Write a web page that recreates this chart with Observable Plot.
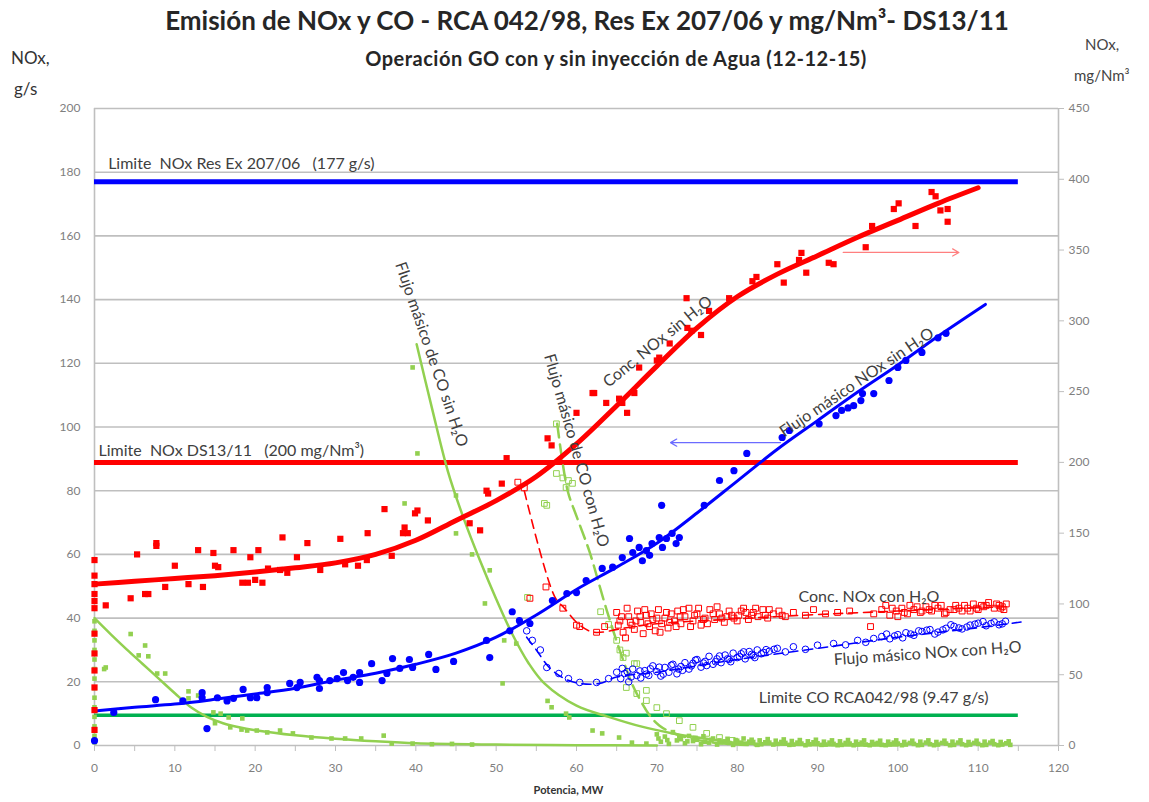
<!DOCTYPE html>
<html>
<head>
<meta charset="utf-8">
<script src="https://cdn.jsdelivr.net/npm/d3@7"></script>
<script src="https://cdn.jsdelivr.net/npm/@observablehq/plot@0.6"></script>
<style>
  html, body { margin:0; padding:0; background:#fff; }
  #wrap { position:relative; width:1149px; height:802px; font-family:Lato, "Open Sans", sans-serif; }
  #head { position:relative; height:80px; }
  .t { position:absolute; white-space:nowrap; color:#262626; }
  #title { left:0; width:1174px; text-align:center; top:4px; font-size:26px; font-weight:bold; }
  #sub { left:0; width:1232px; text-align:center; top:46px; font-size:20px; font-weight:bold; letter-spacing:0.5px; }
  .ylab { font-size:17px; color:#333; }
  .ylabr { font-size:15px; color:#444; }
</style>
</head>
<body>
<div id="wrap">
  <div id="head">
    <div class="t" id="title">Emisión de NOx y CO - RCA 042/98,  Res Ex 207/06 y mg/Nm³- DS13/11</div>
    <div class="t" id="sub">Operación GO con y sin inyección de Agua (12-12-15)</div>
    <div class="t ylab" style="left:11px; top:47px;">NOx,</div>
    <div class="t ylab" style="left:14px; top:78px;">g/s</div>
    <div class="t ylabr" style="left:1085px; top:35px;">NOx,</div>
    <div class="t ylabr" style="left:1074px; top:66px;">mg/Nm³</div>
  </div>
  <div id="chart"></div>
</div>
<script>
// ---- axes / ticks ----
const leftTicks = [0,20,40,60,80,100,120,140,160,180,200];
const rightTicks = [0,50,100,150,200,250,300,350,400,450];   // mg/Nm3
const xTicks = [0,5,10,15,20,25,30,35,40,45,50,55,60,65,70,75,80,85,90,95,100,105,110,115,120];
const mgPerGs = 2.25; // right axis 450 <-> left axis 200

// ---- limits ----
const limNOxRes = 177;      // g/s
const limNOxDS = 200;       // mg/Nm3
const limCO = 9.47;         // g/s
const limitEnd = 115;

// ---- Conc. NOx sin H2O (mg/Nm3), filled red squares ----
const concSin = [
 [0,131],[0,120],[0,114],[0,107],[0,102],[0,97],[0,79],[0,65],[0,53],[0,41],[0,25],[0,11],
 [1.4,99],[4.5,104],[5.3,135],[6.3,107],[6.7,107],[7.7,143],[7.7,141],[8.8,112],[10,127],[11.7,114],
 [12.9,138],[13.5,112],[14.8,136],[15,127],[15.4,126],[17.3,138],[18.4,115],[19.1,115],[19.4,133],
 [20,117],[20.4,138],[20.9,115],[21.6,125],[23.1,124],[23.4,147],[24,122],[25.2,133],[26.5,143],
 [28.1,124],[30.6,146],[31.2,128],[32.8,127],[33.9,131],[34,150],[36.1,167],[37,134],[38.4,150],
 [38.6,154],[39,150],[39.9,164],[40.2,166],[41.5,159],[46.7,157],[48,152],[48.8,180],[49,178],
 [50.7,185],[51.3,203],[56.4,217],[56.9,212],[60,235],[62,249],[62.2,249],[63.7,242],[65.3,245],
 [65.7,242],[66.3,235],[67.2,249],[67.8,267],[70,272],[70.3,274],[71.6,284],[73.7,316],[73.8,295],
 [74.3,293],[75.5,290],[76.5,307],[79,316],[81.9,328],[82.4,331],[85,340],[85.8,327],[87.7,343],
 [88,348],[88.6,334],[91.4,341],[92,340],[96,352],[96.8,367],[99.5,379],[100.1,383],[102.2,367],
 [104.2,391],[104.7,388],[105.3,378],[106.2,379],[106.2,370]
];
const concSinFit = [
 [0,114],[5,116],[10,118],[15,120],[20,122.5],[25,125.5],[30,129],[35,135],[40,145],[45,159],
 [50,173],[55,190],[60,213],[65,240],[70,268],[75,295],[80,317],[85,333],[90,346],[95,359],
 [100,371],[105,383],[110,394]
];

// ---- Conc. NOx con H2O (mg/Nm3), open red squares ----
const concCon = [
 [52.7,186],[53.5,182],[54.2,104],[56.2,112],[58.3,97],[60,85],[60.4,84],[62.5,80],[63.5,84],
 [65,94],[65.4,88],[65.8,80],[66.1,76],[66.5,91],[66.9,85],[67.2,82],[67.6,95],[68,87],[68.3,79],
 [68.7,92],[69.1,84],[69.5,89],[69.8,81],[70.2,96],[70.6,86],[71,90],[71.4,83],[71.8,93],[72.2,88],
 [72.6,95],[73,86],[73.5,91],[74,97],[74.5,88],[75,93],[75.5,85],[76,90],[76.6,96],[77.2,89],
 [77.8,93],[78.4,87],[79,95],[79.6,90],[80.2,92],[80.8,97],[81.4,89],[82,94],[82.6,91],[83.2,96],
 [83.8,90],[84.5,93],[85.2,95],[86,91],[87,94],[88.5,92],[89.5,96],[91,93],[92.5,94],[94,95],
 [96.6,84],[97,93],[98,96],[99,92],[99.8,95],[100.5,97],[101.2,93],[102,96],[102.8,94],[103.5,98],
 [104.2,95],[105,97],[105.8,93],[106.5,96],[107.2,99],[108,95],[108.7,97],[109.4,100],[110,96],
 [110.7,98],[111.3,101],[112,97],[112.6,99],[113.2,96],
 [65.2,85],[66.3,97],[67.4,88],[68.5,96],[69.3,93],[70.4,80],[71.2,94],[72.4,84],[73.3,96],[74.2,84],
 [75.2,97],[76.3,86],[77.5,98],[78.7,91],[80,88],[81.1,94],[82.3,97],[83.5,92],[98.5,99],[100,91],
 [101.5,99],[103,95],[104.6,99],[106,94],[107.6,97],[109,95],[110.4,99],[112.3,100],[113,98],
 [65.6,91],[66.7,87],[67.9,91],[68.9,86],[70,90],[71.6,87],[72.9,91],[74.7,92],[75.8,89],[77,93],
 [78.1,90],[79.3,92],[80.5,95],[81.8,92],[84,96],[85.6,92],[99.3,97],[100.8,94],[102.4,98],[103.9,96],
 [105.4,99],[107,96],[108.3,99],[109.8,97],[111,99],[112.8,97],[113.5,100]
];
const concConFit = [
 [53.5,180],[57.3,105],[58.5,97],[60.4,85],[62.2,80],[66,83],[70,86],[80,89.5],[90,92.5],[100,95],[113,98]
];

// ---- Flujo másico NOx sin H2O (g/s), filled blue circles ----
const flujoSin = [
 [0,1.5],[2.4,10.4],[7.6,14.4],[11,14],[13.4,16.6],[13.4,15],[14,5.3],[15.3,15],[16.5,14],[17.3,14.8],
 [18.5,17.6],[19.4,15],[20.2,15],[21.5,18.2],[21.5,16.6],[24.3,19.5],[25.2,18.2],[25.6,19.8],
 [27.7,21.4],[28,20.4],[28,17.9],[29.3,20.4],[30.2,21],[31,22.9],[31.5,20.4],[32.2,21.4],[33,19.8],
 [33,22.9],[34.5,25.7],[35.8,20.4],[36.4,22.6],[37.1,27.3],[38,24.2],[39.2,27],[39.6,24.5],
 [41.6,28.6],[42.5,23.9],[44.7,26.4],[48.8,33],[49.2,27.6],[51.7,36],[52,42],[52.9,39.2],[54.2,38.3],
 [57,45.5],[58.8,47.7],[60,48],[61.2,51.8],[63.2,55.6],[64.5,56],[65.7,59],[66.6,65],[67,60.6],
 [67.8,62.2],[68.2,58],[68.7,61.2],[69.1,59.7],[69.4,63.4],[70.3,65.3],[70.6,75.4],[70.7,62.2],
 [71.2,65],[71.9,66.6],[72.4,63.4],[72.8,65.3],[75.9,75.4],[77.8,83.2],[79.6,86.3],[81.2,91.7],
 [85.6,96.7],[86.5,98.9],[90.2,101],[92.3,103.6],[93,105.2],[93.8,106],[94.5,106.7],[95.4,108.3],
 [95.6,110.5],[97,110.5],[98.9,114.6],[100,118.7],[101,120.9],[103,123.4],[105,128],[106,129.4]
];
const flujoSinFit = [
 [0,10.8],[5,12],[10,13],[15,14.5],[20,16.2],[25,18],[30,20.5],[35,22.7],[40,25.5],[45,29],[50,34],
 [55,41],[60,49],[65,56],[70,63.5],[75,73],[80,83],[85,93],[90,102],[95,111],[100,119.5],[105,128.5],[110.9,138.5]
];

// ---- Flujo másico NOx con H2O (g/s), open blue circles ----
const flujoCon = [
 [53.8,36],[54.5,33],[55.5,30],[56.3,24.5],[57.8,22.6],[59,21],[60.4,19.8],[62.5,19.8],[64,21],
 [65,23],[65.5,21],[66,22.6],[66.5,20],[67,24],[67.5,22],[68,21.2],[68.5,23.5],[69,22],[69.5,25],
 [70,23.2],[70.5,21.8],[71,24.5],[71.5,23],[72,25.5],[72.5,22.5],[73,24.8],[73.5,26],[74,24],
 [74.5,25.8],[75,27],[75.5,24.6],[76,26.4],[76.5,28],[77,25.5],[77.5,27.2],[78,26],[78.5,28.4],
 [79,27],[79.5,29],[80,27.6],[80.5,28.8],[81,27.2],[81.5,29.5],[82,28.2],[82.5,30],[83,28.8],
 [84,29.6],[85,30.5],[86,29.4],[87,31],[88.5,30.2],[90,31.5],[92,32],[93.5,31.6],[95,33],[96,32.4],
 [97,33.6],[98,34.2],[99,33.5],[100,34.8],[101,35.4],[102,34.6],[103,35.8],[104,36.4],[105,35.6],
 [106,36.8],[107,37.4],[108,36.6],[109,37.8],[110,38.4],[111,37.6],[112,38.8],[113,38.2],
 [65.7,24.2],[66.8,21.5],[67.9,23.4],[69.2,24.1],[70.8,22.4],[71.8,25.2],[73.2,23.6],[74.8,26.8],
 [76.2,25.1],[77.8,28.1],[79.2,26.3],[80.8,29.4],[82.2,27.6],[83.6,30.1],[98.6,35],[100.6,33.8],
 [102.6,36],[104.6,35],[106.6,37.9],[108.6,37.2],[110.6,38.9],[112.6,37.9],
 [66.3,23.2],[68.7,22.4],[70.3,24.6],[72.7,24],[74.3,25],[75.8,25.9],[77.3,26.3],[78.8,27.2],
 [80.3,27.9],[81.8,28.6],[83.3,29.2],[84.6,30.2],[99.6,34.4],[101.6,35],[103.6,36.2],[105.6,36.3],
 [107.6,36.9],[109.6,38.1],[111.6,38.3],[113.4,39]
];
const flujoConFit = [
 [53.8,34],[55,30],[56.6,24.5],[58.5,21],[60.4,19.5],[62.9,19.5],[65,21.5],[70,23],[80,27],[90,30.5],[100,34],[110,37],[116,39]
];

// ---- Flujo másico de CO sin H2O (g/s), filled green squares ----
const coSin = [
 [0,1],[0,3],[0,6],[0,9],[0,12],[0,15],[0,18],[0,21],[0,24],[0,27],[0,30],[0,33],[0,36],[0,39],
 [1.2,24],[1.4,24.5],[4.5,35],[5.5,28.3],[6.3,31.4],[6.7,28],[7.8,22.6],[8.8,22.6],[11.7,17],[11.7,14.8],
 [12.9,15.7],[14.8,10.4],[15,7],[15.7,10],[16.7,8.8],[16.9,5.7],[18.3,5],[18.4,8.5],[19,4.7],[20.2,4.7],
 [21.5,4.1],[23.1,4.7],[24.7,3.8],[27,2.5],[29.5,2.2],[31.2,2.2],[33.2,2.2],[36,3.1],[37,0.6],[39.6,0.6],
 [42,0.4],[44.5,0.5],[47,0.3],
 [38.6,76],[39.6,118.7],[40.2,91.7],[45,78.5],[45,66.6],[47,60],[48.6,44.6],[49.2,55],[50.8,19.5],
 [51,33],[52.5,32],[56.4,14],[56.9,12],[58.7,10],[59.1,8.8],[62,4.7],[63.2,3.8],[65.3,2.5],[66.9,0.9],[68.7,0.6],
 [70,3.5],[71,2.8],[72,4.2],[73,2],[74,3],[75,1.8],[76,1.2],[77,2.2],[78,1],[79,0.8],[80,1.5],[81,0.6],
 [82,1.1],[83,0.4],[84,0.9],[85,0.5],[86,0.8],[87,0.3],[88,0.6],[89,0.4],[90,0.7],[91,0.3],[92,0.5],
 [93,0.2],[94,0.6],[95,0.4],[96,0.3],[97,0.5],[98,0.2],[99,0.4],[100,0.6],[101,0.3],[102,0.5],[103,0.2],
 [104,0.4],[105,0.3],[106,0.6],[107,0.2],[108,0.4],[109,0.3],[110,0.5],[111,0.2],[112,0.4],[113,0.3],[114,0.2],
 [70.5,1.2],[71.5,0.5],[72.5,1.6],[73.5,0.7],[74.5,1.4],[75.5,0.4],[76.5,0.9],[77.5,0.3],[78.5,1.3],
 [79.5,0.2],[80.5,0.9],[81.5,1.2],[82.5,0.2],[83.5,1],[84.5,0.3],[85.5,1.1],[86.5,0.2],[87.5,0.9],
 [88.5,0.1],[89.5,1],[90.5,0.2],[91.5,0.9],[92.5,0.1],[93.5,0.8],[94.5,0.1],[95.5,0.9],[96.5,0.1],
 [97.5,0.8],[98.5,0.1],[99.5,0.9],[100.5,0.1],[101.5,0.8],[102.5,0.1],[103.5,0.9],[104.5,0.1],
 [105.5,0.8],[106.5,0.1],[107.5,0.9],[108.5,0.1],[109.5,0.8],[110.5,0.1],[111.5,0.9],[112.5,0.1],[113.5,0.7],
 [70.2,2.2],[71.3,1.7],[72.8,2.9],[73.8,1.3],[74.8,2.4],[75.8,2.9],[76.8,1.8],[77.8,1.6],[78.8,2.1],
 [79.8,1.7],[80.8,2.2],[81.8,1.8],[82.8,1.6],[83.8,2],[84.8,1.5],[85.8,1.9],[86.8,1.4],[87.8,1.7],
 [88.8,1.3],[89.8,1.8],[90.8,1.2],[91.8,1.6],[92.8,1.3],[93.8,1.7],[94.8,1.2],[95.8,1.6],[96.8,1.1],
 [97.8,1.5],[98.8,1.2],[99.8,1.6],[100.8,1.1],[101.8,1.5],[102.8,1.2],[103.8,1.6],[104.8,1.1],
 [105.8,1.5],[106.8,1.2],[107.8,1.6],[108.8,1.1],[109.8,1.5],[110.8,1.2],[111.8,1.4],[112.8,1.1],[113.8,1.3]
];
const coSinFitA = [
 [0,40],[2,35],[4,30.2],[6,25.6],[8,21],[10,16.4],[12,12],[14,9],[16,7],[18,5.7],[20,4.8],[25,3.2],
 [30,2.1],[35,1.3],[40,0.7],[50,0.3],[60,0.1],[70,0]
];
const coSinFitB = [
 [40.1,126],[42,106],[44,86],[46,71],[48,58],[50,46],[52,35],[54,26],[56,19.5],[60,12.5],[64,9],
 [68,6],[72,3.8],[76,2.2],[80,0.8],[85,0.3],[90,0.1],[100,0]
];

// ---- Flujo másico de CO con H2O (g/s), open green squares ----
const coCon = [
 [53.9,46.5],[56,76],[56.3,75.4],[57.5,85.4],[57.5,101],[58.3,84],[59,83.2],[59.5,82.3],[58.7,81],
 [63,42],[64,38],[65,33],[65.4,30],[65.8,27.6],[66.2,29],[67.2,25.7],[67.5,25.7],[68.7,17.3],[66.2,18.2],
 [67.5,16.3],[68.7,14.1],[70,11.9],[71.2,10],[72.8,7.8],[74.5,5.7],[76.2,3.8],[77.8,2.5],[79.4,1.6]
];
const coConFit = [
 [57.6,101],[58.9,80],[60,72],[61.6,61],[63.7,43],[65.7,27.6],[67.5,16.3],[70.3,6.3],[75.3,1.6],[82.7,0]
];

// ---- annotations (data units) ----
const limitNotes = [
 {t:"Limite  NOx Res Ex 207/06   (177 g/s)", x:1.7, y:182.7},
 {t:"Limite  NOx DS13/11   (200 mg/Nm³)", x:0.5, y:92.6},
 {t:"Limite CO RCA042/98 (9.47 g/s)", x:82.7, y:15.1}
];
const seriesNotes = [
 {t:"Conc. NOx sin H₂O", x:70.1, y:126.8, r:-39},
 {t:"Flujo másico NOx sin H₂O", x:94.9, y:114, r:-34},
 {t:"Flujo másico de CO sin H₂O", x:41.95, y:122.8, r:71},
 {t:"Flujo másico de CO con H₂O", x:60, y:92.6, r:74},
 {t:"Conc. NOx con H₂O", x:96.4, y:46.8, r:0},
 {t:"Flujo másico NOx con H₂O", x:103.7, y:28.9, r:-4}
];
const arrows = [
 {x1:93.2, y1:154.8, x2:107.6, y2:154.8, c:"#ff7f7f"},
 {x1:85.4, y1:95.1, x2:71.7, y2:95.1, c:"#6b6bff"}
];

const RED="#ff0000", BLUE="#0000ff", LGREEN="#92d050", DGREEN="#00b050";
const mg = v => v / mgPerGs;
const P = a => ({x:a[0], y:a[1]});

const chart = Plot.plot({
  width:1149, height:722,
  marginLeft:94, marginRight:91, marginTop:28, marginBottom:57,
  x:{domain:[0,120]},
  y:{domain:[0,200]},
  style:{fontFamily:"Lato, 'Open Sans', sans-serif", fontSize:"12px", color:"#7f7f7f", background:"#fff"},
  marks:[
    Plot.ruleY(leftTicks, {stroke:"#bfbfbf", strokeWidth:1.6}),
    Plot.ruleX([0], {stroke:"#bfbfbf", strokeWidth:1.6}),
    Plot.ruleX([120], {stroke:"#bfbfbf", strokeWidth:1.6}),
    Plot.axisY({ticks:leftTicks, tickSize:0, tickPadding:14, label:null}),
    Plot.axisY({anchor:"right", ticks:rightTicks.map(mg), tickFormat:d => Math.round(d*mgPerGs), tickSize:5, tickPadding:5, label:null, stroke:"#bfbfbf"}),
    Plot.axisX({ticks:xTicks, tickFormat:d => d % 10 === 0 ? d : "", tickSize:6, tickPadding:12, label:null, stroke:"#bfbfbf"}),
    Plot.text(["Potencia, MW"], {frameAnchor:"bottom", dy:48, dx:-8, fontWeight:"bold", fontSize:11, fill:"#333"}),

    // limit lines
    Plot.ruleY([limNOxRes], {x1:0, x2:limitEnd, stroke:BLUE, strokeWidth:5}),
    Plot.ruleY([mg(limNOxDS)], {x1:0, x2:limitEnd, stroke:RED, strokeWidth:5}),
    Plot.ruleY([limCO], {x1:0, x2:limitEnd, stroke:DGREEN, strokeWidth:3.5}),

    // CO
    Plot.dot(coSin.map(P), {x:"x", y:"y", symbol:"square", r:2.6, fill:LGREEN, stroke:"none"}),
    Plot.dot(coCon.map(P), {x:"x", y:"y", symbol:"square", r:3.2, fill:"none", stroke:LGREEN, strokeWidth:1}),
    Plot.line(coSinFitA.map(P), {x:"x", y:"y", stroke:LGREEN, strokeWidth:2.5, curve:"catmull-rom"}),
    Plot.line(coSinFitB.map(P), {x:"x", y:"y", stroke:LGREEN, strokeWidth:2.5, curve:"catmull-rom"}),
    Plot.line(coConFit.map(P), {x:"x", y:"y", stroke:LGREEN, strokeWidth:2.5, strokeDasharray:"14,7", curve:"catmull-rom"}),

    // NOx con H2O
    Plot.dot(concCon.map(P), {x:"x", y:d => mg(d.y), symbol:"square", r:3.3, fill:"none", stroke:RED, strokeWidth:1}),
    Plot.line(concConFit.map(P), {x:"x", y:d => mg(d.y), stroke:RED, strokeWidth:1.6, strokeDasharray:"9,6", curve:"catmull-rom"}),
    Plot.dot(flujoCon.map(P), {x:"x", y:"y", r:3.3, fill:"none", stroke:BLUE, strokeWidth:1}),
    Plot.line(flujoConFit.map(P), {x:"x", y:"y", stroke:BLUE, strokeWidth:1.6, strokeDasharray:"9,6", curve:"catmull-rom"}),

    // NOx sin H2O
    Plot.dot(flujoSin.map(P), {x:"x", y:"y", r:3.6, fill:BLUE, stroke:"none"}),
    Plot.line(flujoSinFit.map(P), {x:"x", y:"y", stroke:BLUE, strokeWidth:3, curve:"catmull-rom"}),
    Plot.dot(concSin.map(P), {x:"x", y:d => mg(d.y), symbol:"square", r:3.5, fill:RED, stroke:"none"}),
    Plot.line(concSinFit.map(P), {x:"x", y:d => mg(d.y), stroke:RED, strokeWidth:5, curve:"catmull-rom"}),

    // arrows
    Plot.arrow(arrows, {x1:"x1", y1:"y1", x2:"x2", y2:"y2", stroke:"c", strokeWidth:1.2, headLength:9}),

    // annotations
    Plot.text(limitNotes, {x:"x", y:"y", text:"t", textAnchor:"start", fontSize:16, fill:"#404040"}),
    Plot.text(seriesNotes, {x:"x", y:"y", text:"t", rotate:"r", textAnchor:"middle", fontSize:16, fill:"#404040"})
  ]
});
document.getElementById("chart").appendChild(chart);
</script>
</body>
</html>
